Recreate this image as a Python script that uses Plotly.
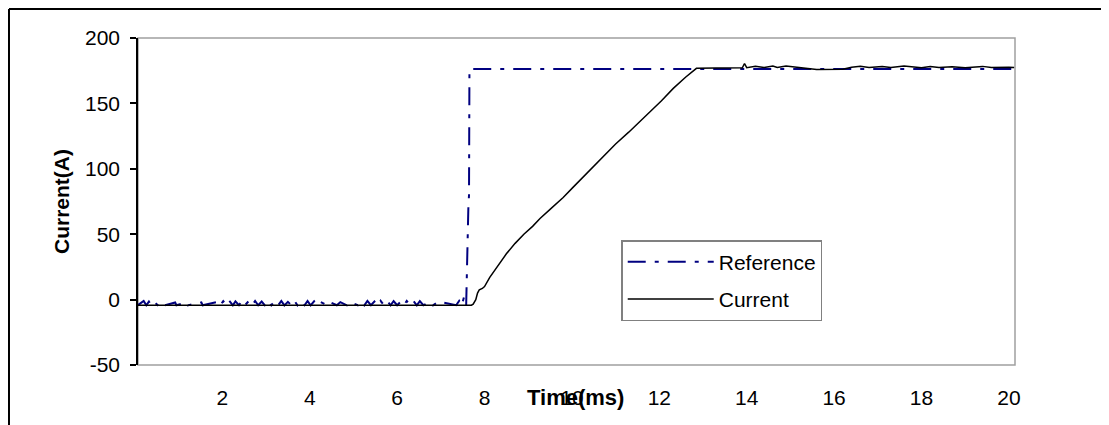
import plotly.graph_objects as go

# ---- data ----
ref_time = [0.07, 0.20, 0.26, 0.32, 0.38, 0.45, 0.52, 0.60, 0.68, 0.92, 0.95, 1.18, 1.21,
            1.52, 1.55, 1.90, 1.95, 2.02, 2.10, 2.16, 2.24, 2.30, 2.38, 2.45, 2.52, 2.60,
            2.68, 2.75, 2.82, 2.90, 2.97, 3.05, 3.12, 3.20, 3.28, 3.35, 3.42, 3.50, 3.58,
            3.65, 3.72, 3.80, 3.88, 3.95, 4.02, 4.10, 4.18, 4.25, 4.40, 4.47, 4.62, 4.70,
            4.85, 4.92, 5.10, 5.18, 5.25, 5.32, 5.40, 5.48, 5.55, 5.62, 5.70, 5.78, 5.85,
            5.92, 6.00, 6.08, 6.15, 6.22, 6.30, 6.38, 6.45, 6.52, 6.60, 6.75, 6.82, 6.95,
            7.35, 7.42, 7.48, 7.53, 7.58, 7.61, 7.63, 7.645, 7.655, 20.12]
ref_current = [-4.2, -1.0, -4.3, -1.5, -4.4, -2.0, -4.3, -1.8, -4.4, -2.2, -4.3, -2.0, -4.4,
               -2.1, -4.3, -1.6, -4.4, -1.2, -4.3, -1.0, -4.4, -1.4, -4.3, -0.9, -4.2, -1.3,
               -4.4, -1.0, -4.3, -1.5, -4.3, -0.8, -4.4, -1.2, -4.3, -1.0, -4.4, -1.7, -4.3,
               -0.9, -4.4, -1.4, -4.3, -1.1, -4.4, -1.3, -4.3, -1.8, -4.4, -2.0, -4.3, -1.9,
               -4.4, -2.1, -4.3, -1.2, -4.4, -1.0, -4.3, -1.5, -4.4, -0.9, -4.3, -1.3, -4.4,
               -1.1, -4.3, -1.6, -4.4, -1.0, -4.3, -1.4, -4.4, -1.2, -4.3, -1.8, -4.4, -1.5,
               -4.3, -1.0, -4.5, 2.0, -4.3, 55.0, 70.0, 80.0, 176.3, 176.3]

cur_time = [0.07, 1.5, 3.0, 4.5, 6.0, 7.0, 7.45, 7.55, 7.62, 7.70, 7.74, 7.80, 7.84, 7.88,
            7.95, 8.00, 8.12, 8.30, 8.50, 8.70, 8.90, 9.10, 9.27, 9.50, 9.80, 10.03, 10.30,
            10.55, 10.79, 11.00, 11.30, 11.56, 11.80, 12.05, 12.32, 12.60, 12.85, 13.30,
            13.90, 13.95, 14.00, 14.20, 14.40, 14.60, 14.70, 14.90, 15.20, 15.60, 16.20,
            16.40, 16.60, 16.80, 17.10, 17.30, 17.60, 18.00, 18.20, 18.40, 18.70, 19.00,
            19.40, 19.60, 20.00, 20.12]
cur_current = [-4.3, -4.4, -4.3, -4.4, -4.3, -4.4, -4.5, -4.6, -4.3, -4.3, -3.5, 0.0, 5.0, 7.5,
               8.5, 10.0, 17.0, 26.0, 35.0, 43.0, 50.0, 56.0, 62.0, 69.0, 78.0, 86.0, 95.0,
               104.0, 112.0, 119.0, 128.0, 136.0, 144.0, 152.0, 161.5, 170.0, 176.8, 177.0,
               177.2, 180.5, 177.3, 178.3, 177.5, 178.5, 177.4, 178.6, 177.3, 176.0, 176.2,
               177.6, 178.4, 177.5, 178.2, 177.4, 178.6, 177.3, 178.2, 177.4, 178.0, 177.2,
               178.3, 177.4, 177.6, 177.5]

y_ticks = [-50, 0, 50, 100, 150, 200]
y_tick_labels = ["-50", "0", "50", "100", "150", "200"]
x_ticks = [2, 4, 6, 8, 10, 12, 14, 16, 18, 20]
x_tick_labels = ["2", "4", "6", "8", "10", "12", "14", "16", "18", "20"]

FONT = "Liberation Sans, Arial, sans-serif"
FS = 21

fig = go.Figure()
fig.add_trace(go.Scatter(
    x=ref_time, y=ref_current, mode="lines", name="Reference",
    line=dict(color="#000080", width=2, dash="18px,9px,4px,9px"),
    legendgroup="a"))
fig.add_trace(go.Scatter(
    x=cur_time, y=cur_current, mode="lines", name="Current",
    line=dict(color="#000000", width=1.5),
    legendgroup="b"))

# plot area frame (gray) and outer frame (black)
fig.add_shape(type="rect", xref="paper", yref="paper", x0=0, x1=1, y0=0, y1=1,
              line=dict(color="#a0a0a0", width=1.5), layer="below")
fig.add_shape(type="line", xref="paper", yref="paper", x0=-0.1471, x1=1.13, y0=1.0887, y1=1.0887,
              line=dict(color="#000000", width=2))
fig.add_shape(type="line", xref="paper", yref="paper", x0=-0.1471, x1=-0.1471, y0=1.0887, y1=-0.25,
              line=dict(color="#000000", width=2))

fig.add_annotation(text="<b>Time(ms)</b>", xref="paper", yref="paper", x=0.4983, y=-0.098,
                   xanchor="center", yanchor="middle", showarrow=False,
                   font=dict(family=FONT, size=22, color="#000000"))

fig.update_layout(
    width=1109, height=425,
    margin=dict(l=130, r=102, t=30, b=68),
    paper_bgcolor="white", plot_bgcolor="white",
    font=dict(family=FONT, size=FS, color="#000000"),
    showlegend=True,
    legend=dict(x=0.551, y=0.382, xanchor="left", yanchor="top",
                bordercolor="#808080", borderwidth=1.5, bgcolor="white",
                font=dict(family=FONT, size=FS), itemwidth=86,
                traceorder="grouped", tracegroupgap=7),
    xaxis=dict(range=[0.07, 20.14], tickvals=x_ticks, ticktext=x_tick_labels,
               showgrid=False, zeroline=False, showline=False, ticks="",
               ticklabelstandoff=18),
    yaxis=dict(range=[-50, 200], tickvals=y_ticks, ticktext=y_tick_labels,
               showgrid=False, zeroline=False,
               showline=True, linecolor="#000000", linewidth=1.5,
               ticks="outside", ticklen=6, tickcolor="#000000", tickwidth=1.5,
               ticklabelstandoff=6,
               title=dict(text="<b>Current(A)</b>", standoff=10,
                          font=dict(family=FONT, size=FS))),
)

fig.write_html("out.html")
